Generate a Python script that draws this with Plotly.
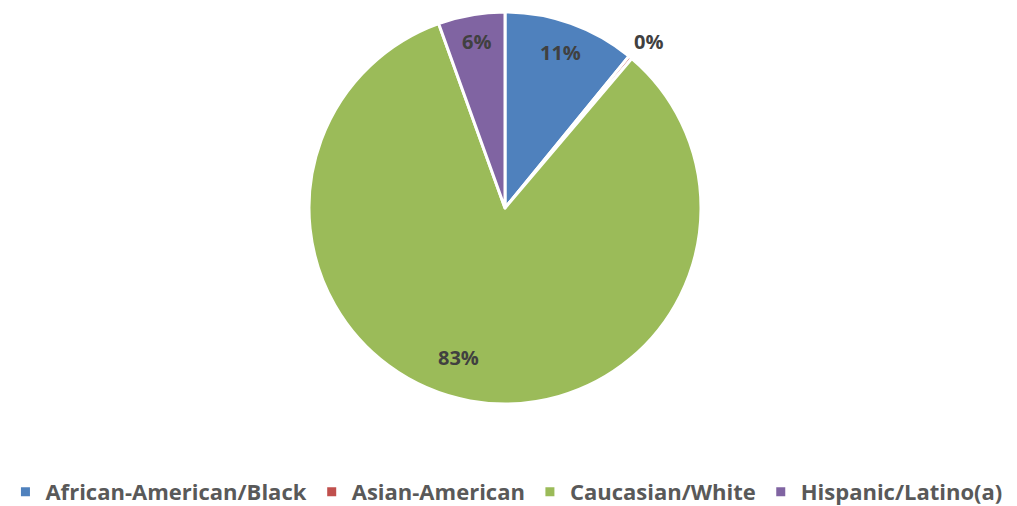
import math
import plotly.graph_objects as go

categories = ["African-American/Black", "Asian-American", "Caucasian/White", "Hispanic/Latino(a)"]
values = [10.9, 0.3, 83.3, 5.5]
label_texts = ["11%", "0%", "83%", "6%"]
colors = ["#4F81BD", "#C0504D", "#9BBB59", "#8064A2"]
label_radius = [0.84, 1.12, 0.80, 0.86]
label_angle_offset = [0, 1, 7, 0]

# figure sits 8px inside the page (default body margin)
W, H = 1009, 498
T, B = 4, 102
px0, px1 = 301, 693  # pie horizontal extent in figure pixels
dx0, dx1 = px0 / W, px1 / W

FONT = "Open Sans"

fig = go.Figure(go.Pie(
    labels=categories,
    values=values,
    marker=dict(colors=colors, line=dict(color="white", width=3)),
    sort=False,
    direction="clockwise",
    rotation=0,
    textinfo="none",
    hoverinfo="label+percent",
    domain=dict(x=[dx0, dx1], y=[0, 1]),
))

total = sum(values)
cum = 0
annotations = []
for v, t, f, off in zip(values, label_texts, label_radius, label_angle_offset):
    mid = (cum + v / 2) / total * 360 + off
    cum += v
    a = math.radians(mid)
    annotations.append(dict(
        x=dx0 + (dx1 - dx0) * (0.5 + 0.5 * f * math.sin(a)),
        y=0.5 + 0.5 * f * math.cos(a),
        xref="paper", yref="paper", text=t, showarrow=False,
        font=dict(family=FONT, size=20, color="#404040", weight="bold"),
        xanchor="center", yanchor="middle",
    ))

fig.update_layout(
    width=W, height=H,
    margin=dict(l=0, r=0, t=T, b=B, autoexpand=False),
    paper_bgcolor="white", plot_bgcolor="white",
    showlegend=True,
    legend=dict(orientation="h", x=0.494, xanchor="center", y=-0.2245, yanchor="middle",
                font=dict(family=FONT, size=22, color="#595959", weight="bold"),
                itemwidth=30, tracegroupgap=0),
    annotations=annotations,
)

fig.write_html("out.html")
